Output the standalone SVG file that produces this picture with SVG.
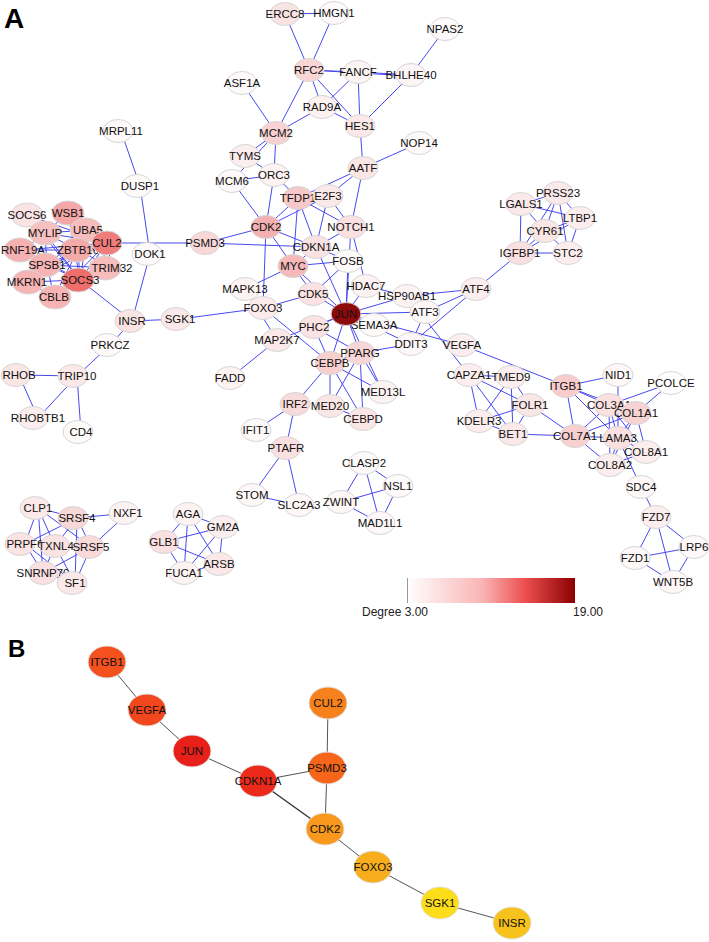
<svg xmlns="http://www.w3.org/2000/svg" width="709" height="942" viewBox="0 0 709 942">
<defs>
<style>
.e line{stroke:#4848f2;stroke-width:1}
.eb line{stroke:#555;stroke-width:1}
.n ellipse{stroke:#d6d6d6;stroke-width:1}
.n text{font-family:"Liberation Sans",Arial,sans-serif;font-size:11.5px;fill:#111;text-anchor:middle}
.b ellipse{stroke:#e2e2e2;stroke-width:1}
.b text{font-family:"Liberation Sans",Arial,sans-serif;font-size:11.5px;fill:#111;text-anchor:middle}
.lbl{font-family:"Liberation Sans",Arial,sans-serif;font-weight:bold;fill:#000}
.leg{font-family:"Liberation Sans",Arial,sans-serif;font-size:12px;fill:#222}
</style>
<linearGradient id="deg" x1="0" y1="0" x2="1" y2="0">
<stop offset="0" stop-color="#ffffff"/>
<stop offset="0.45" stop-color="#f9b4b4"/>
<stop offset="0.7" stop-color="#ee5050"/>
<stop offset="1" stop-color="#8b0000"/>
</linearGradient>
</defs>
<rect width="709" height="942" fill="#fff"/>
<text class="lbl" x="4" y="28" font-size="28">A</text>
<text class="lbl" x="8" y="657" font-size="24">B</text>

<g id="connectors-A" class="e">
<line x1="285" y1="14" x2="334" y2="13"/>
<line x1="285" y1="14" x2="309" y2="70"/>
<line x1="334" y1="13" x2="309" y2="70"/>
<line x1="309" y1="70" x2="358" y2="72"/>
<line x1="358" y1="72" x2="411" y2="75"/>
<line x1="309" y1="70" x2="411" y2="76"/>
<line x1="309" y1="70" x2="322" y2="107"/>
<line x1="309" y1="70" x2="360" y2="126"/>
<line x1="309" y1="70" x2="276" y2="133"/>
<line x1="358" y1="72" x2="322" y2="107"/>
<line x1="358" y1="72" x2="360" y2="126"/>
<line x1="411" y1="75" x2="360" y2="126"/>
<line x1="411" y1="75" x2="445" y2="29"/>
<line x1="322" y1="107" x2="360" y2="126"/>
<line x1="322" y1="107" x2="276" y2="133"/>
<line x1="242" y1="83" x2="276" y2="133"/>
<line x1="276" y1="133" x2="245" y2="156"/>
<line x1="276" y1="133" x2="232" y2="181"/>
<line x1="276" y1="133" x2="274" y2="175"/>
<line x1="245" y1="156" x2="274" y2="175"/>
<line x1="232" y1="181" x2="274" y2="175"/>
<line x1="360" y1="126" x2="363" y2="168"/>
<line x1="363" y1="168" x2="419" y2="143"/>
<line x1="363" y1="168" x2="298" y2="198"/>
<line x1="363" y1="168" x2="328" y2="196"/>
<line x1="363" y1="168" x2="351" y2="227"/>
<line x1="274" y1="175" x2="298" y2="198"/>
<line x1="274" y1="175" x2="266" y2="227"/>
<line x1="232" y1="181" x2="266" y2="227"/>
<line x1="298" y1="198" x2="328" y2="196"/>
<line x1="298" y1="198" x2="266" y2="227"/>
<line x1="298" y1="198" x2="316" y2="247"/>
<line x1="298" y1="198" x2="293" y2="266"/>
<line x1="298" y1="198" x2="351" y2="227"/>
<line x1="328" y1="196" x2="266" y2="227"/>
<line x1="328" y1="196" x2="316" y2="247"/>
<line x1="328" y1="196" x2="351" y2="227"/>
<line x1="266" y1="227" x2="205" y2="243"/>
<line x1="205" y1="243" x2="316" y2="247"/>
<line x1="266" y1="227" x2="316" y2="247"/>
<line x1="266" y1="227" x2="293" y2="266"/>
<line x1="266" y1="227" x2="263" y2="308"/>
<line x1="316" y1="247" x2="293" y2="266"/>
<line x1="316" y1="247" x2="348" y2="261"/>
<line x1="316" y1="247" x2="346" y2="314"/>
<line x1="316" y1="247" x2="351" y2="227"/>
<line x1="293" y1="266" x2="348" y2="261"/>
<line x1="293" y1="266" x2="346" y2="314"/>
<line x1="293" y1="266" x2="245" y2="289"/>
<line x1="293" y1="266" x2="313" y2="294"/>
<line x1="351" y1="227" x2="346" y2="314"/>
<line x1="351" y1="227" x2="366" y2="286"/>
<line x1="348" y1="261" x2="313" y2="294"/>
<line x1="348" y1="261" x2="346" y2="314"/>
<line x1="366" y1="286" x2="346" y2="314"/>
<line x1="366" y1="286" x2="407" y2="296"/>
<line x1="346" y1="314" x2="407" y2="296"/>
<line x1="346" y1="314" x2="425" y2="312"/>
<line x1="346" y1="314" x2="313" y2="294"/>
<line x1="346" y1="314" x2="314" y2="327"/>
<line x1="346" y1="314" x2="360" y2="353"/>
<line x1="346" y1="314" x2="330" y2="363"/>
<line x1="346" y1="314" x2="383" y2="392"/>
<line x1="346" y1="314" x2="411" y2="344"/>
<line x1="346" y1="314" x2="462" y2="345"/>
<line x1="346" y1="314" x2="277" y2="340"/>
<line x1="346" y1="314" x2="374" y2="325"/>
<line x1="313" y1="294" x2="263" y2="308"/>
<line x1="263" y1="308" x2="180" y2="319"/>
<line x1="245" y1="289" x2="277" y2="340"/>
<line x1="277" y1="340" x2="230" y2="378"/>
<line x1="263" y1="308" x2="330" y2="363"/>
<line x1="314" y1="327" x2="360" y2="353"/>
<line x1="314" y1="327" x2="330" y2="363"/>
<line x1="360" y1="353" x2="330" y2="363"/>
<line x1="360" y1="353" x2="411" y2="344"/>
<line x1="360" y1="353" x2="383" y2="392"/>
<line x1="360" y1="353" x2="330" y2="406"/>
<line x1="330" y1="363" x2="383" y2="392"/>
<line x1="330" y1="363" x2="295" y2="404"/>
<line x1="330" y1="363" x2="330" y2="406"/>
<line x1="330" y1="363" x2="363" y2="419"/>
<line x1="360" y1="353" x2="363" y2="419"/>
<line x1="330" y1="406" x2="363" y2="419"/>
<line x1="411" y1="344" x2="425" y2="312"/>
<line x1="411" y1="344" x2="476" y2="289"/>
<line x1="425" y1="312" x2="476" y2="289"/>
<line x1="407" y1="296" x2="476" y2="289"/>
<line x1="407" y1="296" x2="469" y2="375"/>
<line x1="476" y1="289" x2="520" y2="253"/>
<line x1="462" y1="345" x2="566" y2="386"/>
<line x1="107" y1="243" x2="205" y2="243"/>
<line x1="150" y1="254" x2="140" y2="186"/>
<line x1="140" y1="186" x2="121" y2="131"/>
<line x1="150" y1="254" x2="132" y2="321"/>
<line x1="80" y1="280" x2="132" y2="321"/>
<line x1="132" y1="321" x2="180" y2="319"/>
<line x1="132" y1="321" x2="110" y2="345"/>
<line x1="110" y1="345" x2="77" y2="376"/>
<line x1="77" y1="376" x2="19" y2="375"/>
<line x1="77" y1="376" x2="38" y2="418"/>
<line x1="19" y1="375" x2="38" y2="418"/>
<line x1="77" y1="376" x2="81" y2="432"/>
<line x1="295" y1="404" x2="256" y2="430"/>
<line x1="295" y1="404" x2="286" y2="448"/>
<line x1="286" y1="448" x2="252" y2="495"/>
<line x1="286" y1="448" x2="299" y2="505"/>
<line x1="252" y1="495" x2="299" y2="505"/>
<line x1="364" y1="463" x2="341" y2="502"/>
<line x1="364" y1="463" x2="398" y2="486"/>
<line x1="364" y1="463" x2="380" y2="523"/>
<line x1="341" y1="502" x2="398" y2="486"/>
<line x1="341" y1="502" x2="380" y2="523"/>
<line x1="398" y1="486" x2="380" y2="523"/>
<line x1="188" y1="514" x2="223" y2="527"/>
<line x1="188" y1="514" x2="164" y2="542"/>
<line x1="188" y1="514" x2="184" y2="573"/>
<line x1="188" y1="514" x2="219" y2="564"/>
<line x1="223" y1="527" x2="164" y2="542"/>
<line x1="223" y1="527" x2="184" y2="573"/>
<line x1="223" y1="527" x2="219" y2="564"/>
<line x1="164" y1="542" x2="184" y2="573"/>
<line x1="164" y1="542" x2="219" y2="564"/>
<line x1="184" y1="573" x2="219" y2="564"/>
<line x1="38" y1="508" x2="77" y2="518"/>
<line x1="38" y1="508" x2="25" y2="544"/>
<line x1="38" y1="508" x2="55" y2="546"/>
<line x1="38" y1="508" x2="91" y2="547"/>
<line x1="38" y1="508" x2="43" y2="573"/>
<line x1="77" y1="518" x2="128" y2="513"/>
<line x1="128" y1="513" x2="91" y2="547"/>
<line x1="77" y1="518" x2="25" y2="544"/>
<line x1="77" y1="518" x2="55" y2="546"/>
<line x1="77" y1="518" x2="91" y2="547"/>
<line x1="77" y1="518" x2="75" y2="583"/>
<line x1="25" y1="544" x2="43" y2="573"/>
<line x1="25" y1="544" x2="75" y2="583"/>
<line x1="55" y1="546" x2="43" y2="573"/>
<line x1="55" y1="546" x2="75" y2="583"/>
<line x1="91" y1="547" x2="43" y2="573"/>
<line x1="91" y1="547" x2="75" y2="583"/>
<line x1="43" y1="573" x2="75" y2="583"/>
<line x1="521" y1="204" x2="558" y2="193"/>
<line x1="521" y1="204" x2="545" y2="231"/>
<line x1="521" y1="204" x2="520" y2="253"/>
<line x1="521" y1="204" x2="580" y2="218"/>
<line x1="558" y1="193" x2="545" y2="231"/>
<line x1="558" y1="193" x2="580" y2="218"/>
<line x1="558" y1="193" x2="520" y2="253"/>
<line x1="558" y1="193" x2="568" y2="253"/>
<line x1="580" y1="218" x2="545" y2="231"/>
<line x1="580" y1="218" x2="568" y2="253"/>
<line x1="545" y1="231" x2="520" y2="253"/>
<line x1="545" y1="231" x2="568" y2="253"/>
<line x1="520" y1="253" x2="568" y2="253"/>
<line x1="580" y1="218" x2="520" y2="253"/>
<line x1="566" y1="386" x2="618" y2="375"/>
<line x1="566" y1="386" x2="609" y2="405"/>
<line x1="566" y1="386" x2="636" y2="413"/>
<line x1="566" y1="386" x2="575" y2="436"/>
<line x1="566" y1="386" x2="618" y2="438"/>
<line x1="618" y1="375" x2="618" y2="438"/>
<line x1="671" y1="383" x2="609" y2="405"/>
<line x1="671" y1="383" x2="636" y2="413"/>
<line x1="469" y1="375" x2="511" y2="377"/>
<line x1="469" y1="375" x2="479" y2="421"/>
<line x1="469" y1="375" x2="513" y2="434"/>
<line x1="469" y1="375" x2="530" y2="405"/>
<line x1="511" y1="377" x2="479" y2="421"/>
<line x1="511" y1="377" x2="513" y2="434"/>
<line x1="511" y1="377" x2="530" y2="405"/>
<line x1="479" y1="421" x2="530" y2="405"/>
<line x1="479" y1="421" x2="513" y2="434"/>
<line x1="530" y1="405" x2="513" y2="434"/>
<line x1="513" y1="434" x2="575" y2="436"/>
<line x1="530" y1="405" x2="575" y2="436"/>
<line x1="575" y1="436" x2="609" y2="405"/>
<line x1="575" y1="436" x2="636" y2="413"/>
<line x1="575" y1="436" x2="618" y2="438"/>
<line x1="575" y1="436" x2="610" y2="465"/>
<line x1="609" y1="405" x2="618" y2="438"/>
<line x1="609" y1="405" x2="636" y2="413"/>
<line x1="609" y1="405" x2="610" y2="465"/>
<line x1="609" y1="405" x2="646" y2="452"/>
<line x1="636" y1="413" x2="618" y2="438"/>
<line x1="636" y1="413" x2="646" y2="452"/>
<line x1="636" y1="413" x2="610" y2="465"/>
<line x1="618" y1="438" x2="646" y2="452"/>
<line x1="618" y1="438" x2="610" y2="465"/>
<line x1="646" y1="452" x2="610" y2="465"/>
<line x1="618" y1="438" x2="641" y2="487"/>
<line x1="641" y1="487" x2="656" y2="517"/>
<line x1="656" y1="517" x2="635" y2="558"/>
<line x1="656" y1="517" x2="694" y2="547"/>
<line x1="656" y1="517" x2="673" y2="582"/>
<line x1="635" y1="558" x2="694" y2="547"/>
<line x1="635" y1="558" x2="673" y2="582"/>
<line x1="694" y1="547" x2="673" y2="582"/>
<line x1="107" y1="243" x2="27" y2="215"/>
<line x1="107" y1="243" x2="68" y2="213"/>
<line x1="107" y1="243" x2="88" y2="230"/>
<line x1="107" y1="243" x2="45" y2="233"/>
<line x1="107" y1="243" x2="23" y2="250"/>
<line x1="107" y1="243" x2="78" y2="250"/>
<line x1="107" y1="243" x2="47" y2="265"/>
<line x1="107" y1="243" x2="112" y2="268"/>
<line x1="107" y1="243" x2="27" y2="282"/>
<line x1="107" y1="243" x2="80" y2="280"/>
<line x1="107" y1="243" x2="54" y2="297"/>
<line x1="80" y1="280" x2="27" y2="215"/>
<line x1="80" y1="280" x2="68" y2="213"/>
<line x1="80" y1="280" x2="88" y2="230"/>
<line x1="80" y1="280" x2="45" y2="233"/>
<line x1="80" y1="280" x2="23" y2="250"/>
<line x1="80" y1="280" x2="78" y2="250"/>
<line x1="80" y1="280" x2="47" y2="265"/>
<line x1="80" y1="280" x2="112" y2="268"/>
<line x1="80" y1="280" x2="27" y2="282"/>
<line x1="80" y1="280" x2="54" y2="297"/>
<line x1="78" y1="250" x2="68" y2="213"/>
<line x1="78" y1="250" x2="88" y2="230"/>
<line x1="78" y1="250" x2="45" y2="233"/>
<line x1="78" y1="250" x2="23" y2="250"/>
<line x1="78" y1="250" x2="47" y2="265"/>
<line x1="78" y1="250" x2="112" y2="268"/>
<line x1="78" y1="250" x2="27" y2="282"/>
<line x1="78" y1="250" x2="54" y2="297"/>
<line x1="88" y1="230" x2="68" y2="213"/>
<line x1="88" y1="230" x2="45" y2="233"/>
<line x1="88" y1="230" x2="47" y2="265"/>
<line x1="88" y1="230" x2="112" y2="268"/>
<line x1="45" y1="233" x2="47" y2="265"/>
<line x1="45" y1="233" x2="23" y2="250"/>
<line x1="23" y1="250" x2="47" y2="265"/>
<line x1="47" y1="265" x2="27" y2="282"/>
<line x1="47" y1="265" x2="54" y2="297"/>
<line x1="47" y1="265" x2="112" y2="268"/>
<line x1="27" y1="282" x2="54" y2="297"/>
<line x1="68" y1="213" x2="45" y2="233"/>
</g>

<g id="nodes-A" class="n">
<g id="ERCC8"><ellipse cx="285" cy="14" rx="15" ry="11.5" fill="#fae3e3"/><text x="285" y="18">ERCC8</text></g>
<g id="HMGN1"><ellipse cx="334" cy="13" rx="15" ry="11.5" fill="#fefafa"/><text x="334" y="17">HMGN1</text></g>
<g id="RFC2"><ellipse cx="309" cy="70" rx="15" ry="11.5" fill="#f9d6d6"/><text x="309" y="74">RFC2</text></g>
<g id="FANCF"><ellipse cx="358" cy="72" rx="15" ry="11.5" fill="#fdf4f4"/><text x="358" y="76">FANCF</text></g>
<g id="BHLHE40"><ellipse cx="411" cy="75" rx="15" ry="11.5" fill="#fdf5f5"/><text x="411" y="79">BHLHE40</text></g>
<g id="NPAS2"><ellipse cx="445" cy="29" rx="15" ry="11.5" fill="#fefafa"/><text x="445" y="33">NPAS2</text></g>
<g id="ASF1A"><ellipse cx="242" cy="83" rx="15" ry="11.5" fill="#fefafa"/><text x="242" y="87">ASF1A</text></g>
<g id="RAD9A"><ellipse cx="322" cy="107" rx="15" ry="11.5" fill="#fdf2f2"/><text x="322" y="111">RAD9A</text></g>
<g id="HES1"><ellipse cx="360" cy="126" rx="15" ry="11.5" fill="#fbe8e8"/><text x="360" y="130">HES1</text></g>
<g id="MCM2"><ellipse cx="276" cy="133" rx="15" ry="11.5" fill="#f8d2d2"/><text x="276" y="137">MCM2</text></g>
<g id="NOP14"><ellipse cx="419" cy="143" rx="15" ry="11.5" fill="#fefafa"/><text x="419" y="147">NOP14</text></g>
<g id="TYMS"><ellipse cx="245" cy="156" rx="15" ry="11.5" fill="#fcedee"/><text x="245" y="160">TYMS</text></g>
<g id="AATF"><ellipse cx="363" cy="168" rx="15" ry="11.5" fill="#fbe6e6"/><text x="363" y="172">AATF</text></g>
<g id="MCM6"><ellipse cx="232" cy="181" rx="15" ry="11.5" fill="#fef8f8"/><text x="232" y="185">MCM6</text></g>
<g id="ORC3"><ellipse cx="274" cy="175" rx="15" ry="11.5" fill="#fdf3f3"/><text x="274" y="179">ORC3</text></g>
<g id="TFDP1"><ellipse cx="298" cy="198" rx="15" ry="11.5" fill="#f7c8c8"/><text x="298" y="202">TFDP1</text></g>
<g id="E2F3"><ellipse cx="328" cy="196" rx="15" ry="11.5" fill="#fbe8e8"/><text x="328" y="200">E2F3</text></g>
<g id="CDK2"><ellipse cx="266" cy="227" rx="15" ry="11.5" fill="#f4b0b0"/><text x="266" y="231">CDK2</text></g>
<g id="NOTCH1"><ellipse cx="351" cy="227" rx="15" ry="11.5" fill="#fae0e0"/><text x="351" y="231">NOTCH1</text></g>
<g id="PSMD3"><ellipse cx="205" cy="243" rx="15" ry="11.5" fill="#f9d8d8"/><text x="205" y="247">PSMD3</text></g>
<g id="CDKN1A"><ellipse cx="316" cy="247" rx="15" ry="11.5" fill="#fbe2e2"/><text x="316" y="251">CDKN1A</text></g>
<g id="MYC"><ellipse cx="293" cy="266" rx="15" ry="11.5" fill="#f5b9b9"/><text x="293" y="270">MYC</text></g>
<g id="FOSB"><ellipse cx="348" cy="261" rx="15" ry="11.5" fill="#fefafa"/><text x="348" y="265">FOSB</text></g>
<g id="MAPK13"><ellipse cx="245" cy="289" rx="15" ry="11.5" fill="#fdf3f3"/><text x="245" y="293">MAPK13</text></g>
<g id="HDAC7"><ellipse cx="366" cy="286" rx="15" ry="11.5" fill="#fdf3f3"/><text x="366" y="290">HDAC7</text></g>
<g id="CDK5"><ellipse cx="313" cy="294" rx="15" ry="11.5" fill="#fae2e2"/><text x="313" y="298">CDK5</text></g>
<g id="HSP90AB1"><ellipse cx="407" cy="296" rx="15" ry="11.5" fill="#fdf3f3"/><text x="407" y="300">HSP90AB1</text></g>
<g id="FOXO3"><ellipse cx="263" cy="308" rx="15" ry="11.5" fill="#fcebeb"/><text x="263" y="312">FOXO3</text></g>
<g id="ATF3"><ellipse cx="425" cy="312" rx="15" ry="11.5" fill="#fef8f8"/><text x="425" y="316">ATF3</text></g>
<g id="SEMA3A"><ellipse cx="374" cy="325" rx="15" ry="11.5" fill="#fefafa"/><text x="374" y="329">SEMA3A</text></g>
<g id="JUN"><ellipse cx="346" cy="314" rx="15" ry="11.5" fill="#8e0a0a"/><text x="346" y="318">JUN</text></g>
<g id="PHC2"><ellipse cx="314" cy="327" rx="15" ry="11.5" fill="#fbe3e3"/><text x="314" y="331">PHC2</text></g>
<g id="MAP2K7"><ellipse cx="277" cy="340" rx="15" ry="11.5" fill="#fbe8e8"/><text x="277" y="344">MAP2K7</text></g>
<g id="DDIT3"><ellipse cx="411" cy="344" rx="15" ry="11.5" fill="#fef7f7"/><text x="411" y="348">DDIT3</text></g>
<g id="CEBPB"><ellipse cx="330" cy="363" rx="15" ry="11.5" fill="#f8cfcf"/><text x="330" y="367">CEBPB</text></g>
<g id="PPARG"><ellipse cx="360" cy="353" rx="15" ry="11.5" fill="#f9d6d6"/><text x="360" y="357">PPARG</text></g>
<g id="FADD"><ellipse cx="230" cy="378" rx="15" ry="11.5" fill="#fdf3f3"/><text x="230" y="382">FADD</text></g>
<g id="MED13L"><ellipse cx="383" cy="392" rx="15" ry="11.5" fill="#fdf3f3"/><text x="383" y="396">MED13L</text></g>
<g id="IRF2"><ellipse cx="295" cy="404" rx="15" ry="11.5" fill="#f9dada"/><text x="295" y="408">IRF2</text></g>
<g id="MED20"><ellipse cx="330" cy="406" rx="15" ry="11.5" fill="#fbe6e6"/><text x="330" y="410">MED20</text></g>
<g id="CEBPD"><ellipse cx="363" cy="419" rx="15" ry="11.5" fill="#fbe6e6"/><text x="363" y="423">CEBPD</text></g>
<g id="IFIT1"><ellipse cx="256" cy="430" rx="15" ry="11.5" fill="#fefafa"/><text x="256" y="434">IFIT1</text></g>
<g id="PTAFR"><ellipse cx="286" cy="448" rx="15" ry="11.5" fill="#fae0e0"/><text x="286" y="452">PTAFR</text></g>
<g id="CLASP2"><ellipse cx="364" cy="463" rx="15" ry="11.5" fill="#fefafa"/><text x="364" y="467">CLASP2</text></g>
<g id="NSL1"><ellipse cx="398" cy="486" rx="15" ry="11.5" fill="#fefafa"/><text x="398" y="490">NSL1</text></g>
<g id="STOM"><ellipse cx="252" cy="495" rx="15" ry="11.5" fill="#fef8f8"/><text x="252" y="499">STOM</text></g>
<g id="SLC2A3"><ellipse cx="299" cy="505" rx="15" ry="11.5" fill="#fef8f8"/><text x="299" y="509">SLC2A3</text></g>
<g id="ZWINT"><ellipse cx="341" cy="502" rx="15" ry="11.5" fill="#fef8f8"/><text x="341" y="506">ZWINT</text></g>
<g id="MAD1L1"><ellipse cx="380" cy="523" rx="15" ry="11.5" fill="#fef8f8"/><text x="380" y="527">MAD1L1</text></g>
<g id="AGA"><ellipse cx="188" cy="514" rx="15" ry="11.5" fill="#fdf3f3"/><text x="188" y="518">AGA</text></g>
<g id="GM2A"><ellipse cx="223" cy="527" rx="15" ry="11.5" fill="#fceeee"/><text x="223" y="531">GM2A</text></g>
<g id="GLB1"><ellipse cx="164" cy="542" rx="15" ry="11.5" fill="#fae0e0"/><text x="164" y="546">GLB1</text></g>
<g id="ARSB"><ellipse cx="219" cy="564" rx="15" ry="11.5" fill="#fbe8e8"/><text x="219" y="568">ARSB</text></g>
<g id="FUCA1"><ellipse cx="184" cy="573" rx="15" ry="11.5" fill="#fdf3f3"/><text x="184" y="577">FUCA1</text></g>
<g id="PRSS23"><ellipse cx="558" cy="193" rx="15" ry="11.5" fill="#fbe8e8"/><text x="558" y="197">PRSS23</text></g>
<g id="LGALS1"><ellipse cx="521" cy="204" rx="15" ry="11.5" fill="#fbe8e8"/><text x="521" y="208">LGALS1</text></g>
<g id="LTBP1"><ellipse cx="580" cy="218" rx="15" ry="11.5" fill="#fceeee"/><text x="580" y="222">LTBP1</text></g>
<g id="CYR61"><ellipse cx="545" cy="231" rx="15" ry="11.5" fill="#fbe6e6"/><text x="545" y="235">CYR61</text></g>
<g id="IGFBP1"><ellipse cx="520" cy="253" rx="15" ry="11.5" fill="#fae0e0"/><text x="520" y="257">IGFBP1</text></g>
<g id="STC2"><ellipse cx="568" cy="253" rx="15" ry="11.5" fill="#fceeee"/><text x="568" y="257">STC2</text></g>
<g id="ATF4"><ellipse cx="476" cy="289" rx="15" ry="11.5" fill="#fceeee"/><text x="476" y="293">ATF4</text></g>
<g id="VEGFA"><ellipse cx="462" cy="345" rx="15" ry="11.5" fill="#fceeee"/><text x="462" y="349">VEGFA</text></g>
<g id="CAPZA1"><ellipse cx="469" cy="375" rx="15" ry="11.5" fill="#fceeee"/><text x="469" y="379">CAPZA1</text></g>
<g id="TMED9"><ellipse cx="511" cy="377" rx="15" ry="11.5" fill="#fceeee"/><text x="511" y="381">TMED9</text></g>
<g id="ITGB1"><ellipse cx="566" cy="386" rx="15" ry="11.5" fill="#f8cccc"/><text x="566" y="390">ITGB1</text></g>
<g id="NID1"><ellipse cx="618" cy="375" rx="15" ry="11.5" fill="#fef8f8"/><text x="618" y="379">NID1</text></g>
<g id="PCOLCE"><ellipse cx="671" cy="383" rx="15" ry="11.5" fill="#fefefe"/><text x="671" y="387">PCOLCE</text></g>
<g id="FOLR1"><ellipse cx="530" cy="405" rx="15" ry="11.5" fill="#fbe6e6"/><text x="530" y="409">FOLR1</text></g>
<g id="COL3A1"><ellipse cx="609" cy="405" rx="15" ry="11.5" fill="#fae0e0"/><text x="609" y="409">COL3A1</text></g>
<g id="COL1A1"><ellipse cx="636" cy="413" rx="15" ry="11.5" fill="#f8d3d3"/><text x="636" y="417">COL1A1</text></g>
<g id="KDELR3"><ellipse cx="479" cy="421" rx="15" ry="11.5" fill="#fceeee"/><text x="479" y="425">KDELR3</text></g>
<g id="BET1"><ellipse cx="513" cy="434" rx="15" ry="11.5" fill="#fbe8e8"/><text x="513" y="438">BET1</text></g>
<g id="COL7A1"><ellipse cx="575" cy="436" rx="15" ry="11.5" fill="#f8d0d0"/><text x="575" y="440">COL7A1</text></g>
<g id="LAMA3"><ellipse cx="618" cy="438" rx="15" ry="11.5" fill="#fae0e0"/><text x="618" y="442">LAMA3</text></g>
<g id="COL8A1"><ellipse cx="646" cy="452" rx="15" ry="11.5" fill="#fceeee"/><text x="646" y="456">COL8A1</text></g>
<g id="COL8A2"><ellipse cx="610" cy="465" rx="15" ry="11.5" fill="#fceeee"/><text x="610" y="469">COL8A2</text></g>
<g id="SDC4"><ellipse cx="641" cy="487" rx="15" ry="11.5" fill="#fef8f8"/><text x="641" y="491">SDC4</text></g>
<g id="FZD7"><ellipse cx="656" cy="517" rx="15" ry="11.5" fill="#fceeee"/><text x="656" y="521">FZD7</text></g>
<g id="LRP6"><ellipse cx="694" cy="547" rx="15" ry="11.5" fill="#fef8f8"/><text x="694" y="551">LRP6</text></g>
<g id="FZD1"><ellipse cx="635" cy="558" rx="15" ry="11.5" fill="#fef8f8"/><text x="635" y="562">FZD1</text></g>
<g id="WNT5B"><ellipse cx="673" cy="582" rx="15" ry="11.5" fill="#fef8f8"/><text x="673" y="586">WNT5B</text></g>
<g id="SOCS6"><ellipse cx="27" cy="215" rx="16" ry="12" fill="#fbe3e3"/><text x="27" y="219">SOCS6</text></g>
<g id="WSB1"><ellipse cx="68" cy="213" rx="16" ry="12" fill="#f5a6a6"/><text x="68" y="217">WSB1</text></g>
<g id="RNF19A"><ellipse cx="20" cy="250" rx="16" ry="12" fill="#f6b2b2"/><text x="23" y="254">RNF19A</text></g>
<g id="MYLIP"><ellipse cx="45" cy="233" rx="16" ry="12" fill="#f7c0c0"/><text x="45" y="237">MYLIP</text></g>
<g id="UBA5"><ellipse cx="86" cy="230" rx="16" ry="12" fill="#f7bdbd"/><text x="88" y="234">UBA5</text></g>
<g id="ZBTB16"><ellipse cx="76" cy="250" rx="16" ry="12" fill="#f5aaaa"/><text x="78" y="254">ZBTB16</text></g>
<g id="CUL2"><ellipse cx="107" cy="243" rx="15" ry="12" fill="#f07c7c"/><text x="107" y="247">CUL2</text></g>
<g id="DOK1"><ellipse cx="147" cy="254" rx="15" ry="11.5" fill="#fefafa"/><text x="150" y="258">DOK1</text></g>
<g id="SPSB1"><ellipse cx="45" cy="265" rx="16" ry="12" fill="#f6b4b4"/><text x="47" y="269">SPSB1</text></g>
<g id="TRIM32"><ellipse cx="105" cy="268" rx="16" ry="12" fill="#f7bcbc"/><text x="112" y="272">TRIM32</text></g>
<g id="MKRN1"><ellipse cx="28" cy="282" rx="16" ry="12" fill="#f6b4b4"/><text x="27" y="286">MKRN1</text></g>
<g id="CBLB"><ellipse cx="55" cy="297" rx="16" ry="12" fill="#f6b4b4"/><text x="54" y="301">CBLB</text></g>
<g id="SOCS3"><ellipse cx="78" cy="280" rx="16" ry="12" fill="#ee6e6e"/><text x="80" y="284">SOCS3</text></g>
<g id="MRPL11"><ellipse cx="118" cy="131" rx="15" ry="11.5" fill="#fefafa"/><text x="121" y="135">MRPL11</text></g>
<g id="DUSP1"><ellipse cx="137" cy="186" rx="15" ry="11.5" fill="#fefafa"/><text x="140" y="190">DUSP1</text></g>
<g id="INSR"><ellipse cx="130" cy="321" rx="15" ry="11.5" fill="#fae3e3"/><text x="132" y="325">INSR</text></g>
<g id="SGK1"><ellipse cx="176" cy="319" rx="15" ry="11.5" fill="#fbe8e8"/><text x="180" y="323">SGK1</text></g>
<g id="PRKCZ"><ellipse cx="107" cy="345" rx="15" ry="11.5" fill="#fefafa"/><text x="110" y="349">PRKCZ</text></g>
<g id="RHOB"><ellipse cx="16" cy="375" rx="15" ry="11.5" fill="#fbe6e6"/><text x="19" y="379">RHOB</text></g>
<g id="TRIP10"><ellipse cx="73" cy="376" rx="15" ry="11.5" fill="#fbe8e8"/><text x="77" y="380">TRIP10</text></g>
<g id="RHOBTB1"><ellipse cx="33" cy="418" rx="15" ry="11.5" fill="#fceeee"/><text x="38" y="422">RHOBTB1</text></g>
<g id="CD4"><ellipse cx="78" cy="432" rx="15" ry="11.5" fill="#fefafa"/><text x="81" y="436">CD4</text></g>
<g id="CLP1"><ellipse cx="35" cy="508" rx="15" ry="11.5" fill="#fbe8e8"/><text x="38" y="512">CLP1</text></g>
<g id="NXF1"><ellipse cx="124" cy="513" rx="15" ry="11.5" fill="#fdf3f3"/><text x="128" y="517">NXF1</text></g>
<g id="PRPF6"><ellipse cx="20" cy="544" rx="15" ry="11.5" fill="#fae3e3"/><text x="25" y="548">PRPF6</text></g>
<g id="SRSF4"><ellipse cx="73" cy="518" rx="15" ry="11.5" fill="#f9d8d8"/><text x="77" y="522">SRSF4</text></g>
<g id="TXNL4"><ellipse cx="55" cy="546" rx="15" ry="11.5" fill="#fae3e3"/><text x="56" y="550">TXNL4</text></g>
<g id="SRSF5"><ellipse cx="89" cy="547" rx="15" ry="11.5" fill="#f9d8d8"/><text x="91" y="551">SRSF5</text></g>
<g id="SNRNP70"><ellipse cx="43" cy="573" rx="15" ry="11.5" fill="#fae0e0"/><text x="43" y="577">SNRNP70</text></g>
<g id="SF1"><ellipse cx="72" cy="583" rx="15" ry="11.5" fill="#fbe8e8"/><text x="75" y="587">SF1</text></g>
</g>

<g id="legend">
<rect x="407" y="578" width="168" height="25" fill="url(#deg)"/>
<line x1="407.5" y1="578" x2="407.5" y2="603" stroke="#999" stroke-width="1"/>
<text class="leg" x="362" y="616">Degree 3.00</text>
<text class="leg" x="573" y="616">19.00</text>
</g>

<g id="connectors-B" class="eb">
<line x1="107" y1="662" x2="147" y2="710"/>
<line x1="147" y1="710" x2="192" y2="751"/>
<line x1="192" y1="751" x2="258" y2="781"/>
<line x1="258" y1="781" x2="327" y2="768"/>
<line x1="328" y1="703" x2="327" y2="768"/>
<line x1="327" y1="768" x2="325" y2="829"/>
<line x1="258" y1="781" x2="325" y2="829" style="stroke:#333;stroke-width:1.4"/>
<line x1="325" y1="829" x2="373" y2="867"/>
<line x1="373" y1="867" x2="440" y2="903"/>
<line x1="440" y1="903" x2="512" y2="923"/>
</g>

<g id="nodes-B" class="b">
<g id="B-ITGB1"><ellipse cx="107" cy="662" rx="19" ry="16" fill="#f4511e"/><text x="107" y="666">ITGB1</text></g>
<g id="B-VEGFA"><ellipse cx="147" cy="710" rx="19" ry="16" fill="#f2461c"/><text x="147" y="714">VEGFA</text></g>
<g id="B-JUN"><ellipse cx="192" cy="751" rx="19" ry="16" fill="#e8201a"/><text x="192" y="755">JUN</text></g>
<g id="B-CDKN1A"><ellipse cx="258" cy="781" rx="19" ry="16" fill="#ec2a1c"/><text x="258" y="785">CDKN1A</text></g>
<g id="B-CUL2"><ellipse cx="328" cy="703" rx="19" ry="16" fill="#f7811c"/><text x="328" y="707">CUL2</text></g>
<g id="B-PSMD3"><ellipse cx="327" cy="768" rx="19" ry="16" fill="#f5661a"/><text x="327" y="772">PSMD3</text></g>
<g id="B-CDK2"><ellipse cx="325" cy="829" rx="19" ry="16" fill="#f8981c"/><text x="325" y="833">CDK2</text></g>
<g id="B-FOXO3"><ellipse cx="373" cy="867" rx="19" ry="16" fill="#f8ae1c"/><text x="373" y="871">FOXO3</text></g>
<g id="B-SGK1"><ellipse cx="440" cy="903" rx="19" ry="16" fill="#fddc1a"/><text x="440" y="907">SGK1</text></g>
<g id="B-INSR"><ellipse cx="512" cy="923" rx="19" ry="16" fill="#f8c21c"/><text x="512" y="927">INSR</text></g>
</g>
</svg>
